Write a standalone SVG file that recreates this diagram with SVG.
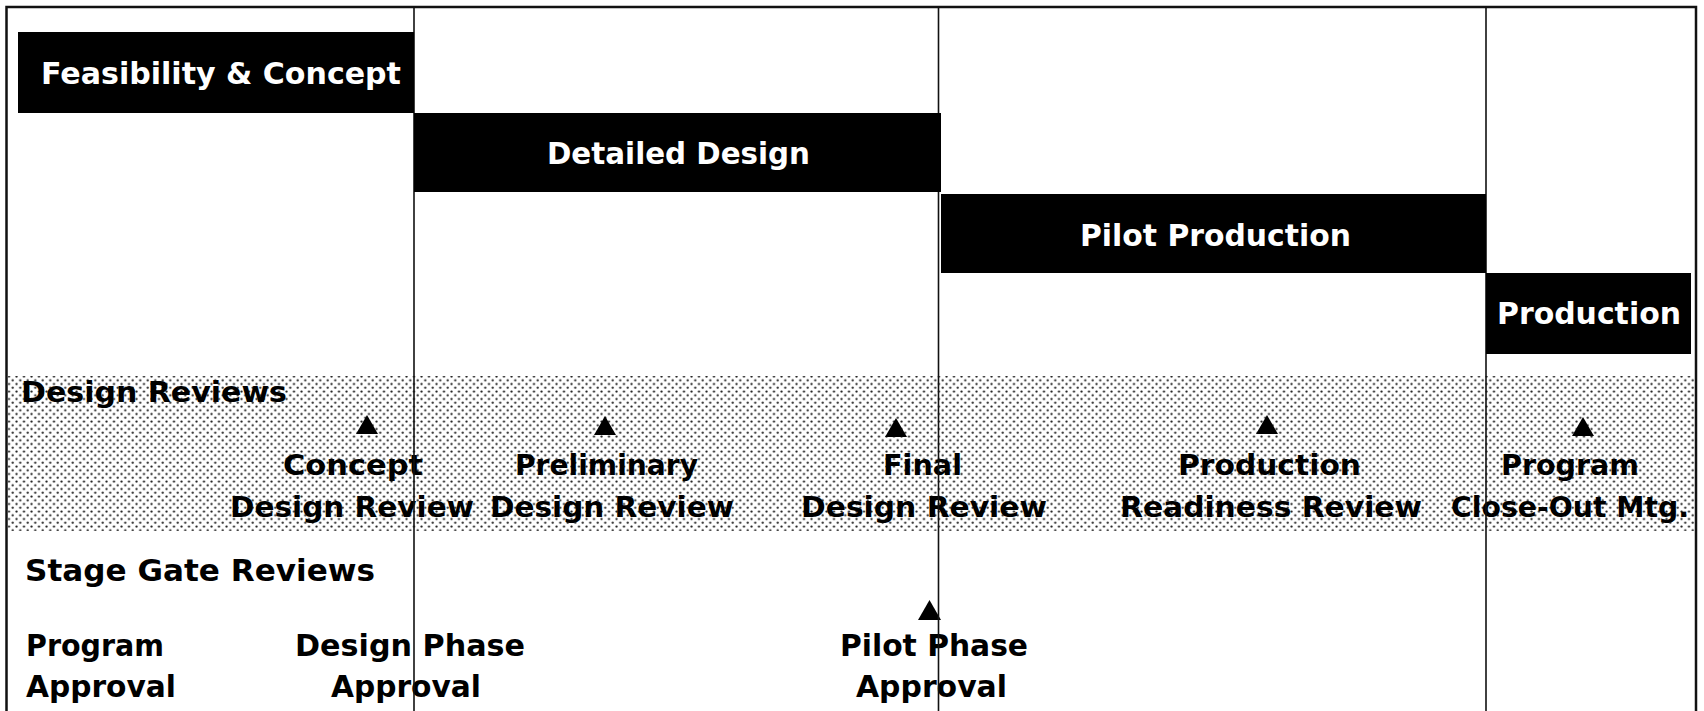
<svg xmlns="http://www.w3.org/2000/svg" width="1704" height="711" viewBox="0 0 1704 711">
  <defs>
    <!-- halftone fill for the design review band -->
    <pattern id="dots" patternUnits="userSpaceOnUse" x="0" y="0" width="7.5" height="7.5">
      <circle cx="1.5" cy="1.5" r="1.1" fill="#1a1a1a"/>
      <circle cx="5.25" cy="5.25" r="1.1" fill="#1a1a1a"/>
    </pattern>
    <style>
      text { font-family: "DejaVu Sans", "Liberation Sans", Arial, sans-serif; font-weight: bold; }
      .bar { fill: #000; }
      .bar-label { fill: #fff; font-size: 30px; }
      .review { fill: #000; font-size: 28px; }
      .gate { fill: #000; font-size: 30px; }
      .divider { stroke: #111; stroke-width: 1.6; fill: none; }
      .frame { stroke: #111; stroke-width: 2.5; fill: none; }
      .milestone { fill: #000; }
    </style>
  </defs>

  <rect x="0" y="0" width="1704" height="711" fill="#fff"/>

  <!-- shaded band behind the design reviews -->
  <rect id="design-review-band" x="8" y="376" width="1687" height="155" fill="url(#dots)"/>

  <!-- design reviews row -->
  <g id="design-reviews-heading">
    <text class="review" x="21" y="402" textLength="266" lengthAdjust="spacingAndGlyphs">Design Reviews</text>
  </g>
  <g id="concept-design-review">
    <polygon class="milestone" points="356,434 367,415 378,434"/>
    <text class="review" x="283" y="475" textLength="140" lengthAdjust="spacingAndGlyphs">Concept</text>
    <text class="review" x="230" y="517" textLength="244" lengthAdjust="spacingAndGlyphs">Design Review</text>
  </g>
  <g id="preliminary-design-review">
    <polygon class="milestone" points="594,435 605,416 616,435"/>
    <text class="review" x="515" y="475" textLength="183" lengthAdjust="spacingAndGlyphs">Preliminary</text>
    <text class="review" x="490" y="517" textLength="244" lengthAdjust="spacingAndGlyphs">Design Review</text>
  </g>
  <g id="final-design-review">
    <polygon class="milestone" points="885,437 896,418 907,437"/>
    <text class="review" x="883" y="475" textLength="79" lengthAdjust="spacingAndGlyphs">Final</text>
    <text class="review" x="801" y="517" textLength="246" lengthAdjust="spacingAndGlyphs">Design Review</text>
  </g>
  <g id="production-readiness-review">
    <polygon class="milestone" points="1256,434 1267,415 1278,434"/>
    <text class="review" x="1178" y="475" textLength="183" lengthAdjust="spacingAndGlyphs">Production</text>
    <text class="review" x="1120" y="517" textLength="302" lengthAdjust="spacingAndGlyphs">Readiness Review</text>
  </g>
  <g id="program-close-out">
    <polygon class="milestone" points="1572,436 1583,417 1594,436"/>
    <text class="review" x="1501" y="475" textLength="138" lengthAdjust="spacingAndGlyphs">Program</text>
    <text class="review" x="1451" y="517" textLength="238" lengthAdjust="spacingAndGlyphs">Close-Out Mtg.</text>
  </g>

  <!-- stage gate reviews row -->
  <g id="stage-gate-heading">
    <text class="gate" x="25" y="581" textLength="350" lengthAdjust="spacingAndGlyphs">Stage Gate Reviews</text>
  </g>
  <g id="program-approval">
    <text class="gate" x="26" y="656" textLength="138" lengthAdjust="spacingAndGlyphs">Program</text>
    <text class="gate" x="26" y="697" textLength="150" lengthAdjust="spacingAndGlyphs">Approval</text>
  </g>
  <g id="design-phase-approval">
    <text class="gate" x="295" y="656" textLength="230" lengthAdjust="spacingAndGlyphs">Design Phase</text>
    <text class="gate" x="331" y="697" textLength="150" lengthAdjust="spacingAndGlyphs">Approval</text>
  </g>
  <g id="pilot-phase-approval">
    <polygon class="milestone" points="918,620 929.5,600 941,620"/>
    <text class="gate" x="840" y="656" textLength="188" lengthAdjust="spacingAndGlyphs">Pilot Phase</text>
    <text class="gate" x="856" y="697" textLength="151" lengthAdjust="spacingAndGlyphs">Approval</text>
  </g>

  <!-- outer frame and phase dividers -->
  <g id="connectors">
    <rect class="frame" x="6.5" y="7" width="1689.5" height="740"/>
    <line class="divider" x1="414" y1="7" x2="414" y2="711"/>
    <line class="divider" x1="938.5" y1="7" x2="938.5" y2="711"/>
    <line class="divider" x1="1486" y1="7" x2="1486" y2="711"/>
  </g>

  <!-- program phase bars -->
  <g id="feasibility-concept">
    <rect class="bar" x="18" y="32" width="396" height="81"/>
    <text class="bar-label" x="41" y="84" textLength="360" lengthAdjust="spacingAndGlyphs">Feasibility &amp; Concept</text>
  </g>
  <g id="detailed-design">
    <rect class="bar" x="414" y="113" width="527" height="79"/>
    <text class="bar-label" x="547" y="164" textLength="263" lengthAdjust="spacingAndGlyphs">Detailed Design</text>
  </g>
  <g id="pilot-production">
    <rect class="bar" x="941" y="194" width="545" height="79"/>
    <text class="bar-label" x="1080" y="246" textLength="271" lengthAdjust="spacingAndGlyphs">Pilot Production</text>
  </g>
  <g id="production">
    <rect class="bar" x="1486" y="273" width="205" height="81"/>
    <text class="bar-label" x="1497" y="324" textLength="184" lengthAdjust="spacingAndGlyphs">Production</text>
  </g>
</svg>
